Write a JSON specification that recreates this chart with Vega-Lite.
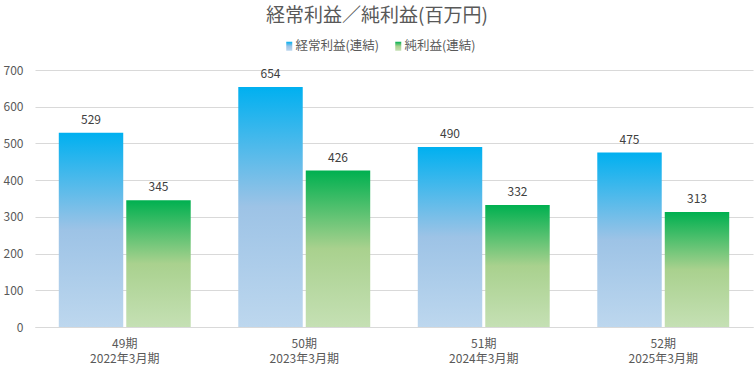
{
  "$schema": "https://vega.github.io/schema/vega-lite/v6.json",
  "width": 718,
  "height": 257,
  "autosize": {"type": "none"},
  "padding": {"left": 35, "top": 70, "right": 2, "bottom": 42},
  "config": {"font": "Noto Sans CJK JP", "view": {"stroke": null}},
  "title": {"text": "経常利益／純利益(百万円)", "fontSize": 19, "fontWeight": "normal", "color": "#595959", "anchor": "middle", "dx": -17, "offset": 14, "font": "Noto Sans CJK JP"},
  "data": {"values": [
    {"cat": "49期|2022年3月期", "s": "経常利益(連結)", "v": 529},
    {"cat": "49期|2022年3月期", "s": "純利益(連結)", "v": 345},
    {"cat": "50期|2023年3月期", "s": "経常利益(連結)", "v": 654},
    {"cat": "50期|2023年3月期", "s": "純利益(連結)", "v": 426},
    {"cat": "51期|2024年3月期", "s": "経常利益(連結)", "v": 490},
    {"cat": "51期|2024年3月期", "s": "純利益(連結)", "v": 332},
    {"cat": "52期|2025年3月期", "s": "経常利益(連結)", "v": 475},
    {"cat": "52期|2025年3月期", "s": "純利益(連結)", "v": 313}
  ]},
  "encoding": {
    "x": {"field": "cat", "type": "nominal", "sort": null,
      "scale": {"paddingInner": 0.265, "paddingOuter": 0.1325},
      "axis": {"title": null, "labelAngle": 0, "labelExpr": "split(datum.label, '|')", "ticks": false, "domainColor": "#D9D9D9", "labelColor": "#595959", "labelFontSize": 12, "labelPadding": 11, "labelLineHeight": 15, "grid": false}},
    "xOffset": {"field": "s", "type": "nominal", "sort": ["経常利益(連結)", "純利益(連結)"], "scale": {"paddingInner": 0.045}},
    "y": {"field": "v", "type": "quantitative", "scale": {"domain": [0, 700]},
      "axis": {"title": null, "values": [0, 100, 200, 300, 400, 500, 600, 700], "domain": false, "ticks": false, "gridColor": "#D9D9D9", "labelColor": "#595959", "labelPadding": 12, "labelFontSize": 12}}
  },
  "resolve": {"scale": {"shape": "independent"}, "legend": {"shape": "independent"}},
  "layer": [
    {
      "transform": [{"filter": "datum.s === '経常利益(連結)'"}],
      "mark": {"type": "bar", "color": {"gradient": "linear", "x1": 0, "y1": 0, "x2": 0, "y2": 1, "stops": [{"offset": 0, "color": "#00B0F0"}, {"offset": 0.5, "color": "#9DC3E6"}, {"offset": 1, "color": "#BDD7EE"}]}}
    },
    {
      "transform": [{"filter": "datum.s === '純利益(連結)'"}],
      "mark": {"type": "bar", "color": {"gradient": "linear", "x1": 0, "y1": 0, "x2": 0, "y2": 1, "stops": [{"offset": 0, "color": "#00B050"}, {"offset": 0.5, "color": "#A9D18E"}, {"offset": 1, "color": "#C5E0B4"}]}}
    },
    {
      "mark": {"type": "text", "baseline": "alphabetic", "dy": -9, "fontSize": 12, "color": "#404040"},
      "encoding": {"text": {"field": "v", "type": "quantitative"}}
    },
    {
      "transform": [{"filter": "datum.s === '経常利益(連結)'"}],
      "mark": {"type": "point", "filled": true, "opacity": 0, "size": 1, "color": {"gradient": "linear", "x1": 0, "y1": 0, "x2": 0, "y2": 1, "stops": [{"offset": 0, "color": "#00B0F0"}, {"offset": 0.5, "color": "#9DC3E6"}, {"offset": 1, "color": "#BDD7EE"}]}},
      "encoding": {
        "shape": {"field": "s", "type": "nominal",
          "scale": {"range": ["M-0.667,-1L0.667,-1L0.667,1L-0.667,1Z"]},
          "legend": {"title": null, "orient": "none", "direction": "horizontal", "legendX": 248, "legendY": -30,
            "labelFontSize": 12.5, "labelColor": "#595959", "symbolSize": 81, "labelOffset": 0, "symbolOpacity": 1, "symbolStrokeWidth": 0}}
      }
    },
    {
      "transform": [{"filter": "datum.s === '純利益(連結)'"}],
      "mark": {"type": "point", "filled": true, "opacity": 0, "size": 1, "color": {"gradient": "linear", "x1": 0, "y1": 0, "x2": 0, "y2": 1, "stops": [{"offset": 0, "color": "#00B050"}, {"offset": 0.5, "color": "#A9D18E"}, {"offset": 1, "color": "#C5E0B4"}]}},
      "encoding": {
        "shape": {"field": "s", "type": "nominal",
          "scale": {"range": ["M-0.667,-1L0.667,-1L0.667,1L-0.667,1Z"]},
          "legend": {"title": null, "orient": "none", "direction": "horizontal", "legendX": 357, "legendY": -30,
            "labelFontSize": 12.5, "labelColor": "#595959", "symbolSize": 81, "labelOffset": 0, "symbolOpacity": 1, "symbolStrokeWidth": 0}}
      }
    }
  ]
}
